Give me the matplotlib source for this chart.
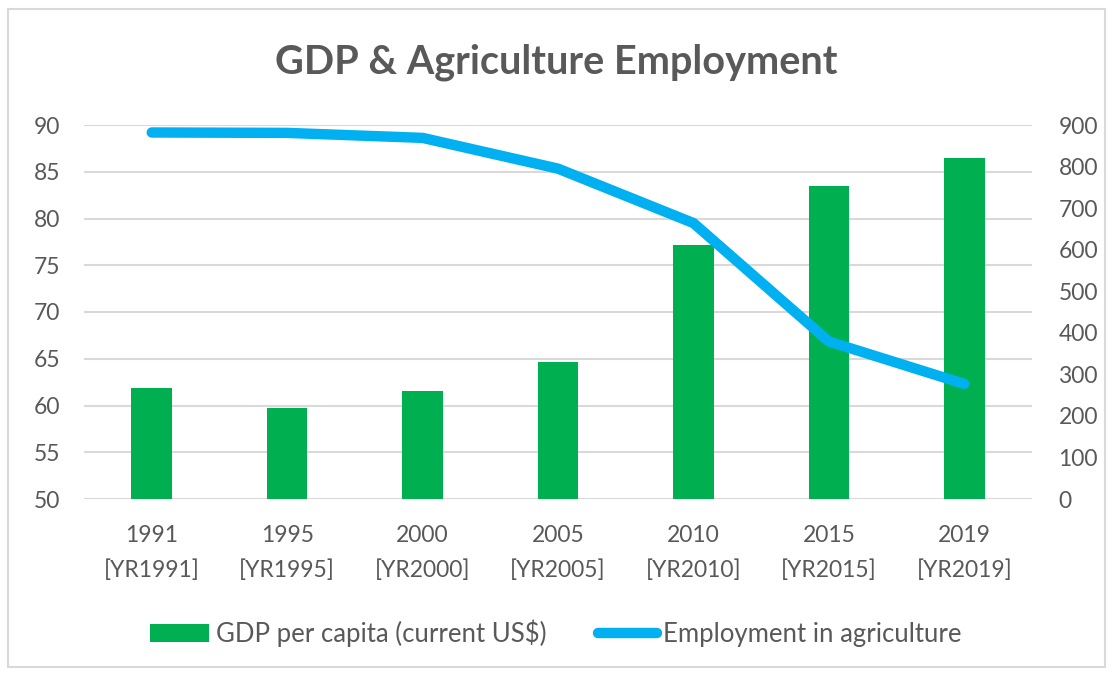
import matplotlib
matplotlib.use("Agg")
import matplotlib.pyplot as plt
from matplotlib.patches import Rectangle

years = ["1991\n[YR1991]", "1995\n[YR1995]", "2000\n[YR2000]", "2005\n[YR2005]",
         "2010\n[YR2010]", "2015\n[YR2015]", "2019\n[YR2019]"]
gdp = [61.9, 59.7, 61.5, 64.7, 77.2, 83.5, 86.5]
employment = [882, 881, 869, 795, 664, 379, 277]

plt.rcParams['font.family'] = ['Lato', 'DejaVu Sans']
text_color = "#595959"
grid_color = "#D9D9D9"

fig = plt.figure(figsize=(11.12, 6.73), dpi=100)
fig.patches.append(Rectangle((8 / 1112, 6 / 673), 1097 / 1112, 658 / 673,
                             transform=fig.transFigure, fill=False,
                             edgecolor="#D9D9D9", linewidth=1.5))

ax1 = fig.add_axes([84 / 1112, 1 - 499 / 673, 948 / 1112, 374 / 673])
ax2 = ax1.twinx()

x = list(range(len(years)))
bars = ax1.bar(x, [g - 50 for g in gdp], bottom=50, width=0.30, color="#00B050",
               label="GDP per capita (current US$)", zorder=2)
line, = ax2.plot(x, employment, color="#00B0F0", linewidth=7.5,
                 solid_capstyle="round", solid_joinstyle="round",
                 label="Employment in agriculture", zorder=3)

ax1.set_xlim(-0.5, len(years) - 0.5)
ax1.set_ylim(50, 90)
ax1.set_yticks(range(50, 91, 5))
ax2.set_ylim(0, 900)
ax2.set_yticks(range(0, 901, 100))

ax1.yaxis.grid(True, color=grid_color, linewidth=1.5, zorder=0)
ax1.set_axisbelow(True)
for ax in (ax1, ax2):
    for s in ax.spines.values():
        s.set_visible(False)
    ax.tick_params(length=0, colors=text_color, labelsize=16.5)

ax1.set_xticks(x)
ax1.set_xticklabels(years, linespacing=1.75)
ax1.tick_params(axis="x", pad=19)
ax1.tick_params(axis="y", pad=17)
ax2.tick_params(axis="y", pad=19)
ax1.set_zorder(ax2.get_zorder() - 1)
ax2.patch.set_visible(False)

fig.text(0.5, 1 - 62 / 673, "GDP & Agriculture Employment", ha="center", va="center",
         fontsize=28.5, fontweight="bold", color=text_color)

fig.legend([bars, line], ["GDP per capita (current US$)", "Employment in agriculture"],
           loc="center", bbox_to_anchor=(0.5, 1 - 633 / 673), ncol=2, frameon=False,
           fontsize=18.5, labelcolor=text_color, handlelength=2.3, handletextpad=0.25,
           columnspacing=2.0)

fig.savefig("out.png", dpi=100)
